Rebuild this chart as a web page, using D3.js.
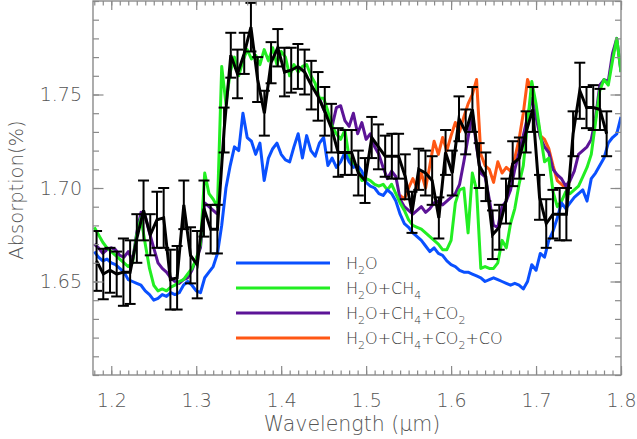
<!DOCTYPE html>
<html><head><meta charset="utf-8">
<script src="https://cdn.jsdelivr.net/npm/d3@7"></script>
<style>body{margin:0;background:#fff}svg{display:block}</style>
</head><body>
<svg id="c" width="637" height="439"></svg>
<script>
// ---- DATA ----
const modelWave = d3.range(125).map(i => +(1.18 + 0.005 * i).toFixed(3));
const h2o = [
 1.666,1.663,1.661,1.662,1.660,1.659,1.657,1.655,1.651,1.650,
 1.649,1.648,1.645,1.643,1.640,1.641,1.643,1.642,1.644,1.643,
 1.644,1.648,1.650,1.648,1.645,1.644,1.652,1.655,1.658,1.665,
 1.680,1.700,1.712,1.722,1.720,1.740,1.727,1.725,1.718,1.724,
 1.704,1.716,1.721,1.724,1.718,1.715,1.714,1.722,1.729,1.716,
 1.728,1.720,1.717,1.724,1.727,1.712,1.716,1.711,1.714,1.719,
 1.714,1.711,1.712,1.709,1.703,1.701,1.700,1.697,1.696,1.699,
 1.697,1.693,1.686,1.681,1.679,1.676,1.674,1.672,1.669,1.666,
 1.668,1.665,1.664,1.661,1.659,1.658,1.656,1.655,1.655,1.654,
 1.653,1.652,1.650,1.651,1.652,1.651,1.650,1.649,1.648,1.649,
 1.648,1.646,1.650,1.659,1.656,1.665,1.663,1.672,1.677,1.684,
 1.692,1.689,1.692,1.695,1.697,1.699,1.693,1.705,1.708,1.712,
 1.716,1.724,1.727,1.729,1.738];
const h2oCh4 = [
 1.679,1.675,1.671,1.668,1.666,1.664,1.662,1.660,1.658,1.660,
 1.675,1.684,1.670,1.657,1.648,1.645,1.646,1.645,1.647,1.648,
 1.650,1.651,1.654,1.657,1.662,1.670,1.708,1.697,1.694,1.690,
 1.765,1.745,1.762,1.770,1.760,1.768,1.774,1.769,1.771,1.766,
 1.774,1.768,1.775,1.766,1.773,1.770,1.760,1.766,1.762,1.765,
 1.766,1.760,1.756,1.748,1.748,1.741,1.733,1.729,1.726,1.731,
 1.716,1.713,1.711,1.704,1.705,1.704,1.702,1.701,1.702,1.699,
 1.702,1.697,1.692,1.688,1.683,1.680,1.679,1.678,1.676,1.674,
 1.672,1.670,1.667,1.667,1.672,1.692,1.699,1.700,1.676,1.708,
 1.699,1.657,1.658,1.657,1.657,1.660,1.672,1.668,1.681,1.689,
 1.702,1.712,1.735,1.757,1.745,1.729,1.714,1.716,1.698,1.690,
 1.693,1.698,1.697,1.699,1.701,1.706,1.711,1.718,1.735,1.752,
 1.758,1.755,1.768,1.780,1.762];
// null where the model is identical to H2O+CH4 (hidden under it)
const h2oCh4Co2 = [
 1.670,1.668,1.665,1.667,1.668,1.667,1.664,1.663,1.666,1.661,
 1.676,1.687,1.685,1.676,1.668,1.660,1.657,1.655,1.652,1.650,
 1.649,1.651,1.652,1.656,1.662,1.668,1.692,1.690,1.688,1.686,
 null,null,null,null,null,null,null,null,null,null,
 null,null,null,null,null,null,null,null,null,null,
 null,null,null,1.748,1.742,1.738,1.733,1.743,1.744,1.736,
 1.733,1.740,1.729,1.735,1.726,1.729,1.722,1.718,1.711,1.705,
 1.709,1.706,1.694,1.690,1.688,1.686,1.688,1.690,1.687,1.689,
 1.692,1.693,1.691,1.693,1.695,1.697,1.702,1.714,1.727,1.740,
 1.722,1.708,1.706,1.694,1.680,1.679,1.690,1.693,1.699,1.710,
 1.719,1.728,1.738,1.748,1.738,1.727,1.722,1.719,1.710,1.707,
 1.705,1.701,1.704,1.709,1.718,1.720,1.722,1.726,1.737,1.755,
 1.758,1.757,1.772,1.780,1.762];
// H2O+CH4+CO2+CO differs from H2O+CH4+CO2 only between 1.54 and 1.74 um
const h2oCh4Co2CoWave = modelWave.slice(72, 113);
const h2oCh4Co2Co = [
 1.696,1.694,1.700,1.705,1.700,1.708,1.700,1.712,1.725,1.718,
 1.727,1.720,1.728,1.735,1.730,1.738,1.745,1.750,1.758,1.718,
 1.712,1.710,1.703,1.714,1.708,1.711,1.709,1.716,1.726,1.740,
 1.758,1.752,1.742,1.728,1.726,1.721,1.712,1.704,1.702,1.700,
 1.704];
const dataWave = d3.range(77).map(i => +(1.1827 + 0.0079 * i).toFixed(4));
const dataValue = [
 1.661,1.654,1.656,1.654,1.655,1.655,1.673,1.688,1.675,1.683,
 1.684,1.651,1.652,1.691,1.664,1.659,1.689,1.678,1.678,1.731,
 1.771,1.761,1.772,1.786,1.758,1.740,1.767,1.775,1.762,1.763,
 1.765,1.762,1.755,1.749,1.741,1.732,1.719,1.719,1.719,1.708,
 1.704,1.727,1.722,1.717,1.717,1.717,1.706,1.687,1.710,1.708,
 1.704,1.684,1.719,1.708,1.737,1.730,1.742,1.712,1.706,1.675,
 1.679,1.693,1.713,1.716,1.730,1.742,1.695,1.681,1.686,1.686,
 1.686,1.729,1.752,1.743,1.743,1.742,1.729];
const dataError = [
 0.016,0.0135,0.012,0.012,0.018,0.017,0.013,0.016,0.011,0.015,
 0.016,0.016,0.017,0.013,0.015,0.018,0.015,0.013,0.013,0.012,
 0.012,0.013,0.011,0.013,0.012,0.012,0.011,0.010,0.013,0.012,
 0.012,0.012,0.013,0.013,0.013,0.013,0.013,0.012,0.012,0.012,
 0.012,0.011,0.012,0.011,0.012,0.012,0.012,0.011,0.011,0.012,
 0.013,0.011,0.012,0.012,0.012,0.012,0.012,0.012,0.013,0.013,
 0.012,0.012,0.012,0.011,0.011,0.012,0.012,0.013,0.013,0.014,
 0.014,0.012,0.015,0.011,0.012,0.011,0.012];
const xTicks = [1.2, 1.3, 1.4, 1.5, 1.6, 1.7, 1.8];
const xMinorTicks = d3.range(118, 181).map(v => v / 100);
const yTicks = [1.65, 1.70, 1.75];
const yMinorTicks = d3.range(160, 181).map(v => v / 100);
const legendLabels = ["H_2O", "H_2O+CH_4", "H_2O+CH_4+CO_2", "H_2O+CH_4+CO_2+CO"];
const seriesColors = ["#0a50ff", "#22ee22", "#5c1497", "#ff5714"];

// ---- CHART ----
const L = 93, R = 621, T = 1, B = 375;
const x = d3.scaleLinear().domain([1.1785, 1.8]).range([L, R]);
const y = d3.scaleLinear().domain([1.6, 1.8]).range([B, T]);
const svg = d3.select('#c');
const font = "'DejaVu Sans', sans-serif";
const axisColor = '#8a8a8a';
const textColor = '#555';

svg.append('defs').append('clipPath').attr('id', 'clip')
  .append('rect').attr('x', L).attr('y', T).attr('width', R - L).attr('height', B - T);

const plot = svg.append('g').attr('clip-path', 'url(#clip)');
const line = d3.line().defined(d => d[1] != null).x(d => x(d[0])).y(d => y(d[1]));

const seriesList = [
  {wave: h2oCh4Co2CoWave, vals: h2oCh4Co2Co, color: seriesColors[3]},
  {wave: modelWave, vals: h2oCh4Co2, color: seriesColors[2]},
  {wave: modelWave, vals: h2oCh4, color: seriesColors[1]},
  {wave: modelWave, vals: h2o, color: seriesColors[0]}
];
seriesList.forEach(s => {
  plot.append('path')
    .datum(s.wave.map((w, i) => [w, s.vals[i]]))
    .attr('d', line).attr('fill', 'none')
    .attr('stroke', s.color).attr('stroke-width', 3).attr('stroke-linejoin', 'round');
});

// observed data
const obs = dataWave.map((w, i) => ({w, v: dataValue[i], e: dataError[i]}));
plot.append('path').datum(obs.map(d => [d.w, d.v]))
  .attr('d', line).attr('fill', 'none').attr('stroke', '#000')
  .attr('stroke-width', 3).attr('stroke-linejoin', 'miter');
const eb = plot.append('g').attr('stroke', '#000').attr('stroke-width', 2);
obs.forEach(d => {
  const cx = x(d.w), y0 = y(d.v - d.e), y1 = y(d.v + d.e);
  eb.append('line').attr('x1', cx).attr('x2', cx).attr('y1', y0).attr('y2', y1);
  eb.append('line').attr('x1', cx - 5.5).attr('x2', cx + 5.5).attr('y1', y0).attr('y2', y0);
  eb.append('line').attr('x1', cx - 5.5).attr('x2', cx + 5.5).attr('y1', y1).attr('y2', y1);
});

// axes
function styleAxis(g) {
  g.select('.domain').remove();
  g.selectAll('line').attr('stroke', axisColor).attr('stroke-width', 1.2);
  g.selectAll('text').attr('fill', textColor).attr('font-family', font)
    .attr('font-size', 19).attr('font-weight', 200);
}
svg.append('g').attr('transform', `translate(0,${B})`)
  .call(d3.axisBottom(x).tickValues(xMinorTicks).tickSize(-4.5).tickFormat('')).call(styleAxis);
svg.append('g').attr('transform', `translate(0,${B})`)
  .call(d3.axisBottom(x).tickValues(xTicks).tickSize(-9).tickPadding(18.5).tickFormat(d3.format('.1f'))).call(styleAxis);
svg.append('g').attr('transform', `translate(0,${T})`)
  .call(d3.axisTop(x).tickValues(xMinorTicks).tickSize(-4.5).tickFormat('')).call(styleAxis);
svg.append('g').attr('transform', `translate(0,${T})`)
  .call(d3.axisTop(x).tickValues(xTicks).tickSize(-9).tickFormat('')).call(styleAxis);
svg.append('g').attr('transform', `translate(${L},0)`)
  .call(d3.axisLeft(y).tickValues(yMinorTicks).tickSize(-6).tickFormat('')).call(styleAxis);
svg.append('g').attr('transform', `translate(${L},0)`)
  .call(d3.axisLeft(y).tickValues(yTicks).tickSize(-10.5).tickPadding(11).tickFormat(d3.format('.2f'))).call(styleAxis);
svg.append('g').attr('transform', `translate(${R},0)`)
  .call(d3.axisRight(y).tickValues(yMinorTicks).tickSize(-6).tickFormat('')).call(styleAxis);
svg.append('g').attr('transform', `translate(${R},0)`)
  .call(d3.axisRight(y).tickValues(yTicks).tickSize(-10.5).tickFormat('')).call(styleAxis);

svg.append('rect').attr('x', L).attr('y', T).attr('width', R - L).attr('height', B - T)
  .attr('fill', 'none').attr('stroke', axisColor).attr('stroke-width', 1.4);

// axis titles
svg.append('text').attr('x', 352).attr('y', 431).attr('text-anchor', 'middle')
  .attr('font-family', font).attr('font-size', 20.5).attr('font-weight', 200).attr('fill', textColor)
  .text('Wavelength (μm)');
svg.append('text').attr('transform', 'translate(23,190) rotate(-90)').attr('text-anchor', 'middle')
  .attr('font-family', font).attr('font-size', 19.5).attr('font-weight', 200).attr('fill', textColor)
  .text('Absorption(%)');

// legend
const legY = [263, 288, 313, 338];
legendLabels.forEach((lab, i) => {
  svg.append('line').attr('x1', 236).attr('x2', 330).attr('y1', legY[i]).attr('y2', legY[i])
    .attr('stroke', seriesColors[i]).attr('stroke-width', 3);
  const t = svg.append('text').attr('x', 346).attr('y', legY[i] + 6)
    .attr('font-family', font).attr('font-size', 16).attr('font-weight', 200).attr('fill', '#333');
  const parts = lab.split(/(_.)/).filter(p => p.length);
  let sub = false;
  parts.forEach(p => {
    if (p[0] === '_') {
      t.append('tspan').attr('dy', 5).attr('font-size', 11).text(p[1]);
      sub = true;
    } else {
      t.append('tspan').attr('dy', sub ? -5 : 0).text(p);
      sub = false;
    }
  });
});
</script>
</body></html>
